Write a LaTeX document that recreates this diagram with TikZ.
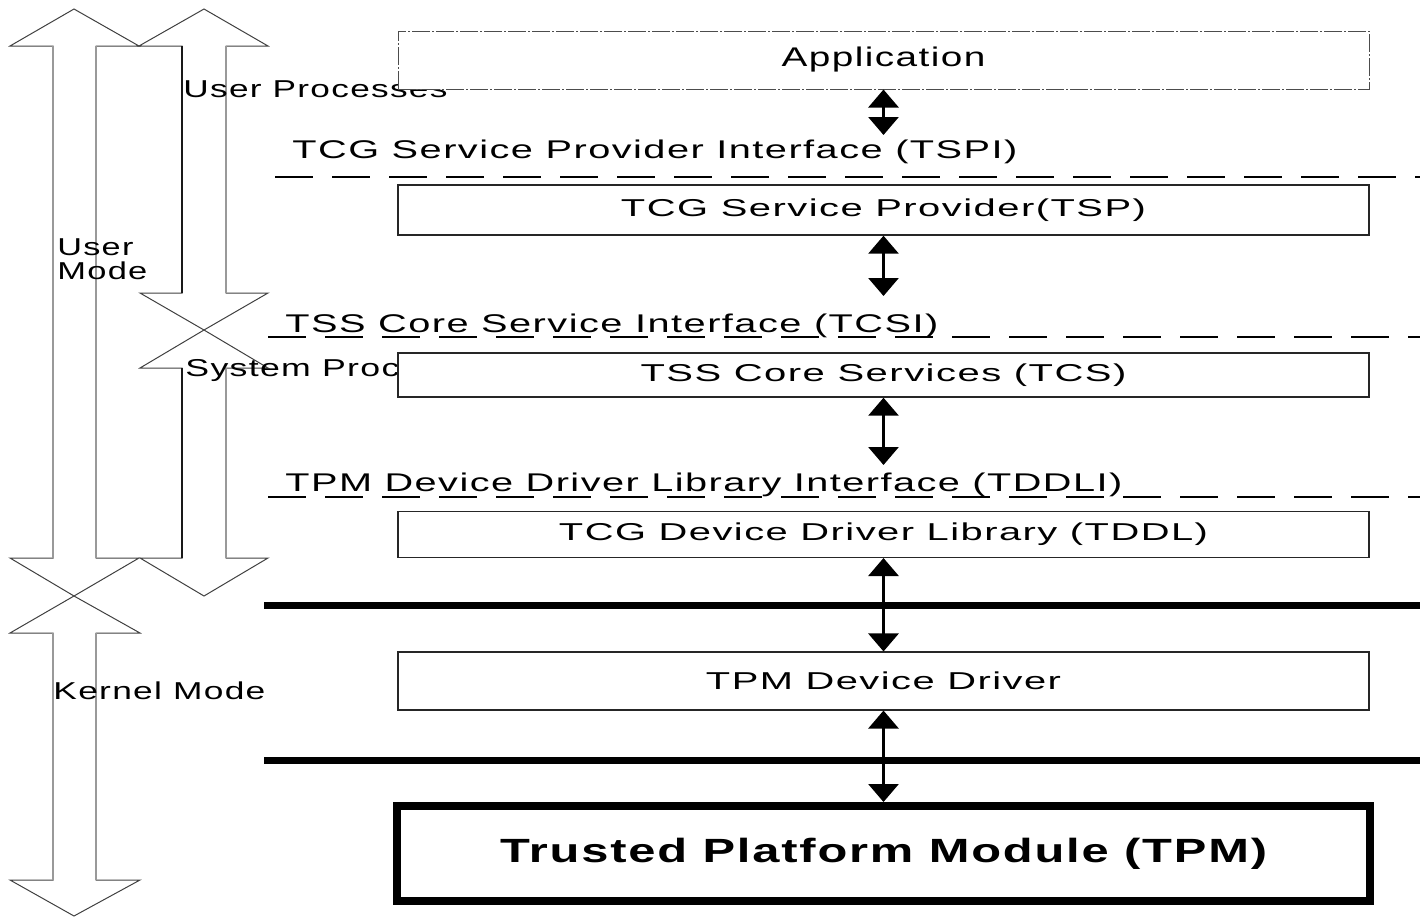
\documentclass[tikz,border=0pt]{standalone}
\usepackage{fontspec}
\setmainfont{Liberation Sans}[FakeStretch=1.35, LetterSpace=5]
\usetikzlibrary{arrows.meta}
\newcommand{\fitt}[2]{\resizebox{#1}{\height}{#2}}
\begin{document}
\begin{tikzpicture}[x=0.5pt,y=-0.5pt]
\tikzset{
  headline/.style={draw=black!75, line width=0.5pt},
  shaftgray/.style={draw=black!40, line width=1.3pt},
  shaftdark/.style={draw=black!90, line width=0.8pt},
  lbl/.style={inner sep=0pt, anchor=base west, font=\fontsize{12.2}{14}\selectfont},
  ilbl/.style={inner sep=0pt, anchor=base west, font=\fontsize{12.8}{14}\selectfont},
  box/.style={draw=black!85, line width=0.7pt, fill=white, inner sep=0pt,
              minimum width=485.5pt, font=\fontsize{12.2}{14}\selectfont},
  appbox/.style={box, draw=black!70, line width=0.5pt,
              dash pattern=on 9pt off 1pt on 1pt off 1pt, font=\fontsize{13.5}{15}\selectfont},
  tpmbox/.style={draw=black, line width=4pt, fill=white, inner sep=0pt,
              minimum width=486.5pt, minimum height=47.5pt,
              font=\fontsize{16.8}{18}\selectfont\bfseries},
  ifline/.style={line width=1.4pt, dash pattern=on 19pt off 9.5pt},
  sepline/.style={line width=3.8pt},
  conn/.style={{Triangle[width=15pt,length=9pt]}-{Triangle[width=15pt,length=9pt]}, line width=1.5pt},
}
\useasboundingbox (0,0) rectangle (1420,917);

% ---- left mode arrows ----
% User Mode
\draw[headline] (74,9) -- (139,46) -- (96,46) -- (96,558) -- (139,558) -- (74,596)
  -- (10,558) -- (53,558) -- (53,46) -- (10,46) -- cycle;
\draw[shaftgray] (53,46) -- (53,558) (96,46) -- (96,558);
% Kernel Mode
\draw[headline] (74,596) -- (140,633) -- (96,633) -- (96,880) -- (140,880) -- (74,916)
  -- (10,880) -- (53,880) -- (53,633) -- (10,633) -- cycle;
\draw[shaftgray] (53,633) -- (53,880) (96,633) -- (96,880);
% User Processes
\draw[headline] (204,9) -- (268,46) -- (226,46) -- (226,293) -- (268,293) -- (204,330)
  -- (140,293) -- (182,293) -- (182,46) -- (139,46) -- cycle;
\draw[shaftgray] (226,46) -- (226,293);
\draw[shaftdark] (182,46) -- (182,293);
% System Processes
\draw[headline] (204,330) -- (268,368) -- (226,368) -- (226,558) -- (268,558) -- (204,596)
  -- (140,558) -- (182,558) -- (182,368) -- (140,368) -- cycle;
\draw[shaftgray] (226,368) -- (226,558);
\draw[shaftdark] (182,368) -- (182,558);

% ---- side labels ----
\node[lbl] (lup) at (183,97) {\fitt{132pt}{User Processes}};
\node[lbl] (lu1) at (57,255) {\fitt{38pt}{User}};
\node[lbl] (lu2) at (57,279) {\fitt{45pt}{Mode}};
\node[lbl] (lsp) at (185,376) {\fitt{107pt}{System Proc}};
\node[lbl] (lkm) at (53,699) {\fitt{106pt}{Kernel Mode}};

% ---- interface labels ----
\node[ilbl] (ltspi) at (292,158) {\fitt{362.5pt}{TCG Service Provider Interface (TSPI)}};
\node[ilbl] (ltcsi) at (285,332) {\fitt{326.5pt}{TSS Core Service Interface (TCSI)}};
\node[ilbl] (ltddli) at (285,491) {\fitt{418.5pt}{TPM Device Driver Library Interface (TDDLI)}};

% ---- boxes ----
\node[appbox, minimum height=29pt] (app) at (883.5,60) {\fitt{102pt}{Application}};
\node[box, minimum height=25pt] (tsp) at (883.5,210) {\fitt{262.5pt}{TCG Service Provider(TSP)}};
\node[box, minimum height=22pt] (tcs) at (883.5,375) {\fitt{243pt}{TSS Core Services (TCS)}};
\node[box, minimum height=22.8pt] (tddl) at (883.5,534.5) {\fitt{324.5pt}{TCG Device Driver Library (TDDL)}};
\node[box, minimum height=28.85pt] (tpmdd) at (883.5,681) {\fitt{177.5pt}{TPM Device Driver}};
\node[tpmbox] (tpm) at (883.5,853.5) {\fitt{383.5pt}{Trusted Platform Module (TPM)}};

% ---- interface dashed lines ----
\draw[ifline] (275,177) -- (1420,177);
\draw[ifline] (268,337) -- (1420,337);
\draw[ifline] (268,497) -- (1420,497);

% ---- kernel separators ----
\draw[sepline] (264,605.5) -- (1420,605.5);
\draw[sepline] (264,760.5) -- (1420,760.5);

% ---- connectors ----
\coordinate (e1) at (883.5,135);
\coordinate (e2) at (883.5,296);
\coordinate (e3) at (883.5,465);
\draw[conn] (app.south) -- (e1);
\draw[conn] (tsp.south) -- (e2);
\draw[conn] (tcs.south) -- (e3);
\draw[conn] (tddl.south) -- (tpmdd.north);
\draw[conn] (tpmdd.south) -- (tpm.north);
\end{tikzpicture}
\end{document}
